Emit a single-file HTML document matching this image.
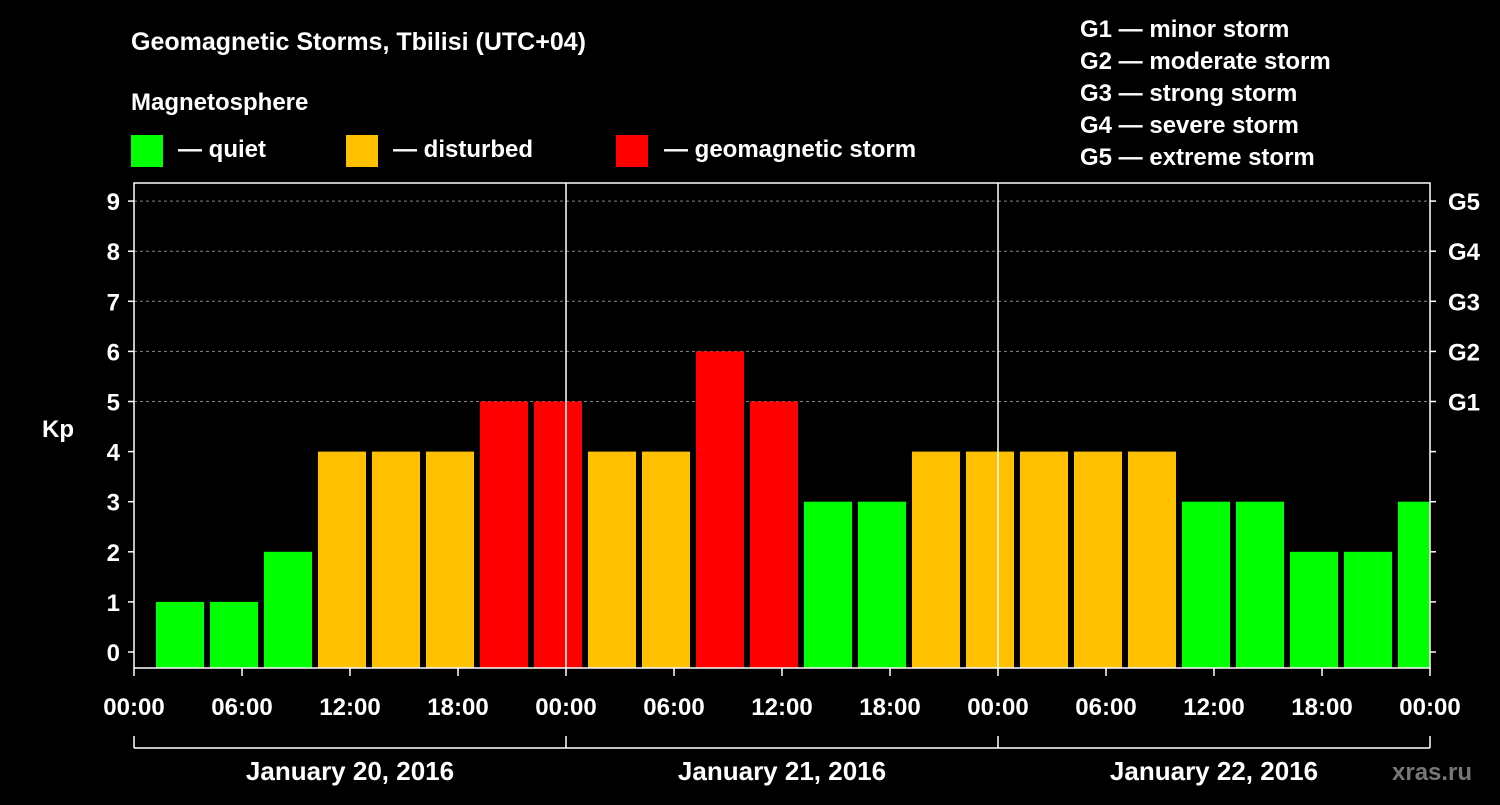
<!DOCTYPE html>
<html><head><meta charset="utf-8"><style>
body{margin:0;background:#000;width:1500px;height:800px;overflow:hidden;font-family:"Liberation Sans",Arial,sans-serif}
svg text{font-family:"Liberation Sans",Arial,sans-serif;font-weight:bold;fill:#fff}
</style></head><body>
<svg id="c" width="1500" height="800">
<text x="131" y="50" font-size="25">Geomagnetic Storms, Tbilisi (UTC+04)</text>
<text x="131" y="110" font-size="24">Magnetosphere</text>
<rect x="131" y="135" width="32" height="32" fill="#00ff00"/>
<text x="178" y="157" font-size="24">— quiet</text>
<rect x="346" y="135" width="32" height="32" fill="#ffc000"/>
<text x="393" y="157" font-size="24">— disturbed</text>
<rect x="616" y="135" width="32" height="32" fill="#ff0000"/>
<text x="664" y="157" font-size="24">— geomagnetic storm</text>
<g font-size="24">
<text x="1080" y="37">G1 — minor storm</text>
<text x="1080" y="69">G2 — moderate storm</text>
<text x="1080" y="101">G3 — strong storm</text>
<text x="1080" y="133">G4 — severe storm</text>
<text x="1080" y="165">G5 — extreme storm</text>
</g>
<text x="42" y="437" font-size="24">Kp</text>
<text x="1392" y="780" font-size="24" fill="#777" style="fill:#777">xras.ru</text>
<g id="plot"></g>
</svg>
<script>
const kpValues=[1,1,2,4,4,4,5,5,4,4,6,5,3,3,4,4,4,4,4,3,3,2,2,3];
const yTicks=[0,1,2,3,4,5,6,7,8,9];
const gLabels=["G1","G2","G3","G4","G5"];
const gLevels=[5,6,7,8,9];
const xTickLabels=["00:00","06:00","12:00","18:00","00:00","06:00","12:00","18:00","00:00","06:00","12:00","18:00","00:00"];
const dayLabels=["January 20, 2016","January 21, 2016","January 22, 2016"];

const X0=134,X1=1430,PT=183,PB=668,Y0=652,YU=50.1;
const HOURS=72;
const xs=h=>X0+(X1-X0)*h/HOURS;
const ys=v=>Y0-v*YU;
const g=document.getElementById('plot');
const NS="http://www.w3.org/2000/svg";
function mk(t,a){const e=document.createElementNS(NS,t);for(const k in a)e.setAttribute(k,a[k]);g.appendChild(e);return e;}
// gridlines
gLevels.forEach(v=>{const l=mk('line',{x1:X0,x2:X1,y1:ys(v),y2:ys(v),stroke:'#888','stroke-dasharray':'3,3','stroke-width':1});

});
// bars
kpValues.forEach((v,i)=>{
 const x=xs(i*3+1.22);const w=Math.min(xs(i*3+3.89),X1)-x;
 const c=v>=5?'#ff0000':(v>=4?'#ffc000':'#00ff00');
 const r=mk('rect',{x:x,y:ys(v),width:w,height:PB-ys(v),fill:c});
 
 
});
// day separators
[24,48].forEach(h=>{const l=mk('line',{x1:xs(h),x2:xs(h),y1:PT,y2:PB,stroke:'#fff','stroke-width':1.5});

});
// frame
const f=mk('rect',{x:X0,y:PT,width:X1-X0,height:PB-PT,fill:'none',stroke:'#fff','stroke-width':1.5});


// y ticks
yTicks.forEach(v=>{
 mk('line',{x1:X0-6,x2:X0,y1:ys(v),y2:ys(v),stroke:'#fff','stroke-width':1.5});
 mk('line',{x1:X1,x2:X1+6,y1:ys(v),y2:ys(v),stroke:'#fff','stroke-width':1.5});
 const t=mk('text',{x:X0-14,y:ys(v)+9,'font-size':24,'text-anchor':'end'});t.textContent=v;
 
 
});
gLabels.forEach((s,i)=>{const t=mk('text',{x:X1+18,y:ys(gLevels[i])+9,'font-size':24});t.textContent=s;
 
 });
// x ticks
xTickLabels.forEach((s,i)=>{const h=i*6;
 mk('line',{x1:xs(h),x2:xs(h),y1:PB,y2:PB+8,stroke:'#fff','stroke-width':1.5});
 const t=mk('text',{x:xs(h),y:715,'font-size':24,'text-anchor':'middle'});t.textContent=s;
 
 });
// day bracket
mk('line',{x1:X0,x2:X1,y1:748,y2:748,stroke:'#fff','stroke-width':1.5});
[0,24,48,72].forEach(h=>mk('line',{x1:xs(h),x2:xs(h),y1:736,y2:748,stroke:'#fff','stroke-width':1.5}));
dayLabels.forEach((s,i)=>{const t=mk('text',{x:xs(i*24+12),y:780,'font-size':26,'text-anchor':'middle'});t.textContent=s;
 
 });
</script>
</body></html>
